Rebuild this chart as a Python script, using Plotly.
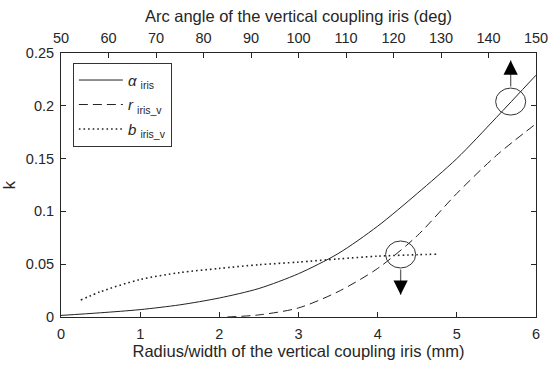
import plotly.graph_objects as go

# Data
alpha_x = [0, 0.5, 1, 1.5, 2, 2.5, 3, 3.5, 4, 4.5, 5, 5.5, 6]
alpha_k = [0.0015, 0.004, 0.007, 0.0115, 0.018, 0.027, 0.041, 0.06, 0.086, 0.117, 0.15, 0.189, 0.229]

r_x = [2.1, 2.5, 3, 3.5, 4, 4.5, 5, 5.5, 6]
r_k = [0, 0.002, 0.0086, 0.024, 0.046, 0.077, 0.117, 0.153, 0.183]

b_x = [0.25, 0.5, 1, 1.5, 2, 2.5, 3, 3.5, 4, 4.5, 4.75]
b_k = [0.016, 0.024, 0.0355, 0.042, 0.046, 0.0495, 0.052, 0.055, 0.0576, 0.059, 0.0595]

angle_range = [50, 150]
k_ticks = [0, 0.05, 0.1, 0.15, 0.2, 0.25]
k_tick_labels = ["0", "0.05", "0.1", "0.15", "0.2", "0.25"]

FONT = "Liberation Sans, Arial, sans-serif"
TXT = "#262626"
LINE = "#222222"

fig = go.Figure()
fig.add_trace(go.Scatter(x=alpha_x, y=alpha_k, mode="lines", legendgroup="a",
                         line=dict(color=LINE, width=1, shape="spline", smoothing=0.8),
                         name="<i>α</i> <sub>iris</sub>"))
fig.add_trace(go.Scatter(x=r_x, y=r_k, mode="lines", legendgroup="r",
                         line=dict(color=LINE, width=1, dash="9px,5px", shape="spline", smoothing=0.8),
                         name="<i>r</i> <sub>iris_v</sub>"))
fig.add_trace(go.Scatter(x=b_x, y=b_k, mode="lines", legendgroup="b",
                         line=dict(color=LINE, width=1.6, dash="1.6px,3px", shape="spline", smoothing=0.8),
                         name="<i>b</i> <sub>iris_v</sub>"))
# invisible trace to anchor top axis
fig.add_trace(go.Scatter(x=angle_range, y=[0, 0], xaxis="x2", mode="lines", line=dict(width=0),
                         showlegend=False, hoverinfo="skip", opacity=0))

# ellipses
for cx, cy in [(4.29, 0.0592), (5.68, 0.204)]:
    fig.add_shape(type="circle", xref="x", yref="y", x0=cx - 0.19, x1=cx + 0.19, y0=cy - 0.0128, y1=cy + 0.0128,
                  line=dict(color="#333333", width=1))

# arrows (gray shafts, black heads)
arrows = [(4.29, 0.0464, 0.021), (5.68, 0.2168, 0.243)]
for ax_, y_tail, y_tip in arrows:
    fig.add_annotation(x=ax_, y=y_tip, ax=ax_, ay=y_tail, axref="x", ayref="y", xref="x", yref="y",
                       text="", showarrow=True, arrowhead=0, arrowwidth=1.3, arrowcolor="#666666")
    fig.add_annotation(x=ax_, y=y_tip, ax=ax_, ay=y_tip + (y_tail - y_tip) * 0.2, axref="x", ayref="y",
                       xref="x", yref="y", text="", showarrow=True, arrowhead=2, arrowsize=2.2,
                       arrowwidth=1.3, arrowcolor="#000000")

fig.update_layout(
    width=548, height=366,
    margin=dict(l=61, r=12, t=53, b=49),
    paper_bgcolor="white", plot_bgcolor="white",
    font=dict(family=FONT, size=15, color=TXT),
    xaxis=dict(range=[0, 6], dtick=1, ticks="inside", ticklen=5, tickcolor=TXT, automargin=False,
               showline=True, linecolor=TXT, linewidth=1, mirror=True, showgrid=False, zeroline=False,
               ticklabelstandoff=4, ticklabeloverflow="allow",
               title=dict(text="Radius/width of the vertical coupling iris (mm)", font=dict(size=16.5), standoff=0),
               tickfont=dict(size=14.5)),
    xaxis2=dict(range=angle_range, dtick=10, overlaying="x", side="top", ticks="inside", ticklen=5,
                tickcolor=TXT, showgrid=False, zeroline=False, showline=False, automargin=False,
                ticklabelstandoff=6, ticklabeloverflow="allow",
                title=dict(text="Arc angle of the vertical coupling iris (deg)", font=dict(size=16.5), standoff=3),
                tickfont=dict(size=14.5)),
    yaxis=dict(range=[0, 0.25], tickvals=k_ticks, ticktext=k_tick_labels, ticks="inside", ticklen=5,
               tickcolor=TXT, showline=True, linecolor=TXT, linewidth=1, mirror="ticks", showgrid=False,
               automargin=False, zeroline=False, ticklabelstandoff=3, ticklabeloverflow="allow",
               title=dict(text="k", font=dict(size=16.5), standoff=12),
               tickfont=dict(size=14.5)),
    legend=dict(x=0.025, y=0.963, xanchor="left", yanchor="top", bordercolor="#333333", borderwidth=1,
                bgcolor="white", font=dict(size=15), tracegroupgap=2, itemwidth=44),
    showlegend=True,
)

fig.write_html("out.html")
